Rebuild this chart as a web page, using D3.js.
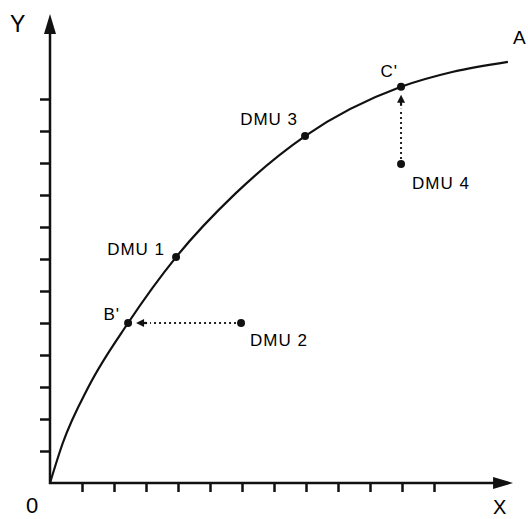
<!DOCTYPE html>
<html>
<head>
<meta charset="utf-8">
<script src="https://cdn.jsdelivr.net/npm/d3@7"></script>
<style>
  html, body { margin: 0; padding: 0; background: #fff; }
  svg { display: block; }
  text { font-family: "Liberation Sans", Arial, sans-serif; fill: #000; }
</style>
</head>
<body>
<script>
// frontier curve (x, y in tick units)
const frontierX = [0, 0.4, 1.2, 2.44, 3.94, 5.8, 7.97, 10.97, 12.6, 14.31];
const frontierY = [0, 1.25, 3.0, 5.0, 7.06, 9.05, 10.84, 12.38, 12.85, 13.16];

// labelled points
const pointNames = ["DMU 1", "DMU 2", "DMU 3", "DMU 4", "B'", "C'"];
const pointX = [3.94, 5.97, 7.97, 10.97, 2.44, 10.97];
const pointY = [7.06, 5.0, 10.84, 9.97, 5.0, 12.38];

// projections: from inefficient DMU to its frontier point
const projFrom = ["DMU 2", "DMU 4"];
const projTo = ["B'", "C'"];

const tickValues = [1, 2, 3, 4, 5, 6, 7, 8, 9, 10, 11, 12];

const width = 528, height = 519;

const x = d3.scaleLinear().domain([0, 12]).range([50, 434]);
const y = d3.scaleLinear().domain([0, 12]).range([483, 99]);

const svg = d3.select("body")
  .append("svg")
  .attr("width", width)
  .attr("height", height)
  .attr("viewBox", [0, 0, width, height]);

// axes (ticks only, lines drawn with arrows below)
svg.append("g")
  .attr("transform", `translate(0, ${y(0)})`)
  .call(d3.axisBottom(x).tickValues(tickValues).tickSize(9).tickSizeOuter(0).tickFormat(""))
  .call((g) => g.select(".domain").remove())
  .call((g) => g.selectAll(".tick line").attr("stroke", "#111").attr("stroke-width", 2.5));

svg.append("g")
  .attr("transform", `translate(${x(0)}, 0)`)
  .call(d3.axisLeft(y).tickValues(tickValues).tickSize(10).tickSizeOuter(0).tickFormat(""))
  .call((g) => g.select(".domain").remove())
  .call((g) => g.selectAll(".tick line").attr("stroke", "#111").attr("stroke-width", 2.5));

// axis lines with arrowheads
const xEnd = x(14.47), yEnd = y(14.66);
svg.append("line")
  .attr("x1", x(0) - 1).attr("y1", y(0))
  .attr("x2", xEnd - 10).attr("y2", y(0))
  .attr("stroke", "#111").attr("stroke-width", 2.5);
svg.append("path")
  .attr("d", `M${xEnd},${y(0)} L${xEnd - 20},${y(0) - 6} L${xEnd - 20},${y(0) + 6} Z`)
  .attr("fill", "#111");

svg.append("line")
  .attr("x1", x(0)).attr("y1", y(0) + 1)
  .attr("x2", x(0)).attr("y2", yEnd + 10)
  .attr("stroke", "#111").attr("stroke-width", 2.5);
svg.append("path")
  .attr("d", `M${x(0)},${yEnd} L${x(0) - 6},${yEnd + 20} L${x(0) + 6},${yEnd + 20} Z`)
  .attr("fill", "#111");

// axis labels
svg.append("text").attr("x", 10).attr("y", 32).attr("font-size", 23).text("Y");
svg.append("text").attr("x", 26).attr("y", 513).attr("font-size", 22).text("0");
svg.append("text").attr("x", 493).attr("y", 514).attr("font-size", 20).text("X");

// frontier
const frontier = frontierX.map((d, i) => ({ x: d, y: frontierY[i] }));
const line = d3.line()
  .x((d) => x(d.x))
  .y((d) => y(d.y))
  .curve(d3.curveMonotoneX);

svg.append("path")
  .datum(frontier)
  .attr("fill", "none")
  .attr("stroke", "#111")
  .attr("stroke-width", 2.2)
  .attr("d", line);

const last = frontier[frontier.length - 1];
svg.append("text")
  .attr("x", x(last.x) + 5)
  .attr("y", y(last.y) - 18)
  .attr("font-size", 19)
  .text("A");

// projection arrows
const pts = new Map(pointNames.map((n, i) => [n, { name: n, x: pointX[i], y: pointY[i] }]));

projFrom.forEach((from, i) => {
  const a = pts.get(from), b = pts.get(projTo[i]);
  const x1 = x(a.x), y1 = y(a.y), x2 = x(b.x), y2 = y(b.y);
  const len = Math.hypot(x2 - x1, y2 - y1);
  const ux = (x2 - x1) / len, uy = (y2 - y1) / len;
  const px = -uy, py = ux;
  // dotted part
  svg.append("line")
    .attr("x1", x1).attr("y1", y1)
    .attr("x2", x2 - ux * 22).attr("y2", y2 - uy * 22)
    .attr("stroke", "#222")
    .attr("stroke-width", 2)
    .attr("stroke-dasharray", "2,3");
  // solid stem
  svg.append("line")
    .attr("x1", x2 - ux * 19).attr("y1", y2 - uy * 19)
    .attr("x2", x2 - ux * 12).attr("y2", y2 - uy * 12)
    .attr("stroke", "#111")
    .attr("stroke-width", 2.2);
  // head
  const tx = x2 - ux * 8, ty = y2 - uy * 8;
  const bx = x2 - ux * 16, by = y2 - uy * 16;
  svg.append("path")
    .attr("d", `M${tx},${ty} L${bx + px * 4},${by + py * 4} L${bx - px * 4},${by - py * 4} Z`)
    .attr("fill", "#111");
});

// points
svg.selectAll(".pt")
  .data(Array.from(pts.values()))
  .join("circle")
  .attr("class", "pt")
  .attr("cx", (d) => x(d.x))
  .attr("cy", (d) => y(d.y))
  .attr("r", 4)
  .attr("fill", "#111");

// point labels
const labelPos = {
  "DMU 1": { dx: -11, dy: -2, anchor: "end" },
  "DMU 2": { dx: 9, dy: 23, anchor: "start" },
  "DMU 3": { dx: -7, dy: -11, anchor: "end" },
  "DMU 4": { dx: 11, dy: 25, anchor: "start" },
  "B'": { dx: -8, dy: -3, anchor: "end" },
  "C'": { dx: -3, dy: -10, anchor: "end" }
};

svg.selectAll(".lbl")
  .data(Array.from(pts.values()))
  .join("text")
  .attr("class", "lbl")
  .attr("x", (d) => x(d.x) + labelPos[d.name].dx)
  .attr("y", (d) => y(d.y) + labelPos[d.name].dy)
  .attr("text-anchor", (d) => labelPos[d.name].anchor)
  .attr("font-size", 17)
  .attr("letter-spacing", 1)
  .text((d) => d.name);
</script>
</body>
</html>
